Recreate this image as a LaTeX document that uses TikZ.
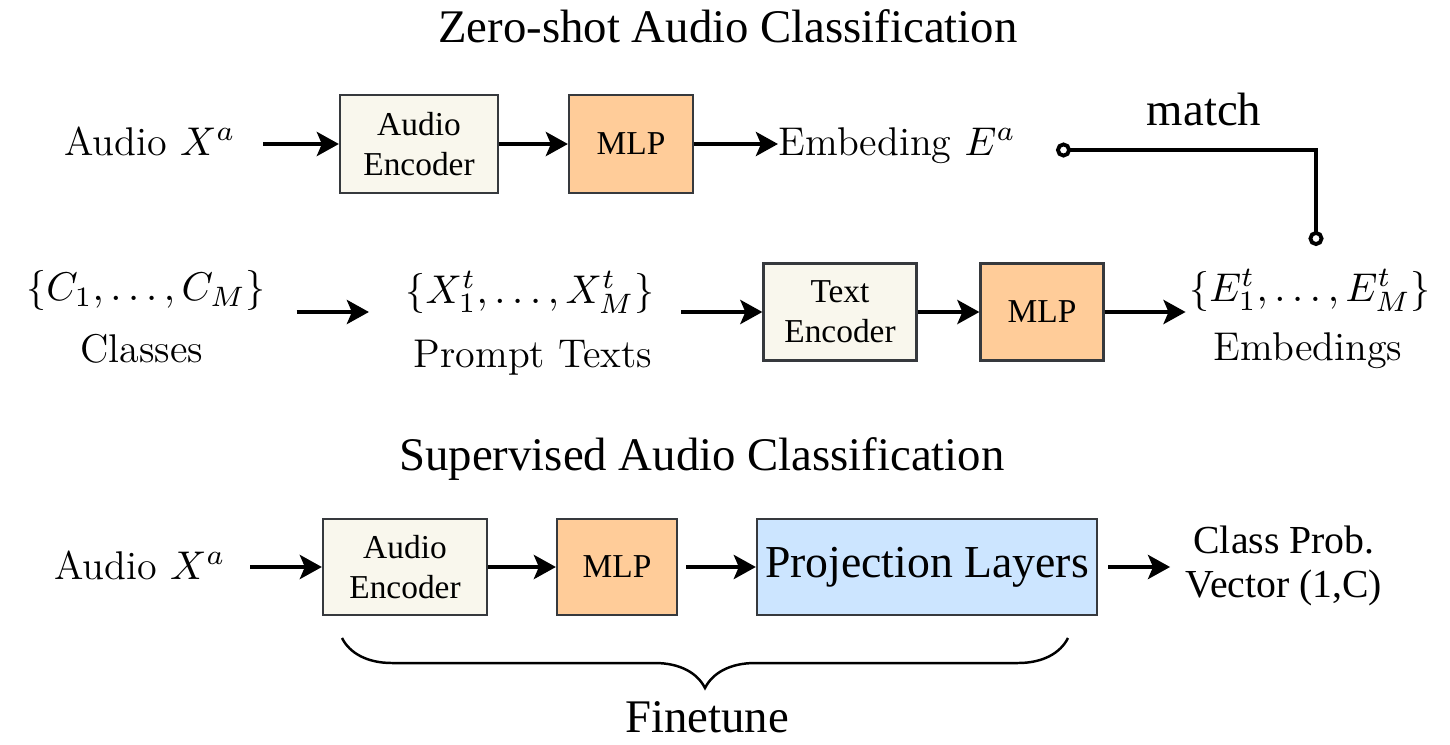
\RequirePackage{fix-cm}
\documentclass[tikz,border=0pt]{standalone}
\usepackage{amsmath}
\usepackage{fontspec}
\newfontfamily\tnr{Liberation Serif}
\usetikzlibrary{arrows.meta,decorations.pathreplacing,positioning}
\definecolor{encfill}{HTML}{F9F7ED}
\definecolor{mlpfill}{HTML}{FFCC99}
\definecolor{projfill}{HTML}{CCE5FF}
\definecolor{boxline}{HTML}{36393D}

\begin{document}
\begin{tikzpicture}[x=0.01cm,y=-0.01cm,
  box/.style={draw=boxline,line width=0.6pt,align=center,inner sep=0pt,font=\tnr\fontsize{9.5}{11.5}\selectfont},
  encbox/.style={box,fill=encfill},
  mlpbox/.style={box,fill=mlpfill},
  lbl/.style={font=\fontsize{11.4}{14}\selectfont,inner sep=0pt},
  ttl/.style={font=\tnr\fontsize{13.3}{16}\selectfont,inner sep=0pt},
  arr/.style={-{Stealth[length=0.22cm,width=0.24cm,inset=0.05cm]},line width=1.4pt}]
\useasboundingbox (0,0) rectangle (1450,745);

\node[ttl,anchor=base] (zs) at (728,42) {Zero-shot Audio Classification};
\node[lbl,anchor=base] (ain) at (150,155) {Audio $X^a$};
\node[encbox,minimum width=1.58cm,minimum height=0.98cm] (aenc) at (419,144) {Audio\\Encoder};
\node[mlpbox,minimum width=1.24cm,minimum height=0.98cm] (mlp) at (631,144) {MLP};
\node[lbl,anchor=base west] (ea) at (778,155) {Embeding $E^a$};
\node[ttl,anchor=base] (match) at (1204,125) {match};
\coordinate (m1) at (1056,150);
\coordinate (m2) at (1316,246);

\node[lbl,anchor=base] (cset) at (146,300) {$\{C_1,\ldots,C_M\}$};
\node[lbl,anchor=base] (cls) at (142,362) {Classes};
\node[lbl,anchor=base] (xset) at (530,303) {$\{X^t_1,\ldots,X^t_M\}$};
\node[lbl,anchor=base] (pt) at (533,367) {Prompt Texts};
\node[encbox,minimum width=1.53cm,minimum height=0.97cm] (tenc) at (840,312) {Text\\Encoder};
\node[mlpbox,minimum width=1.23cm,minimum height=0.97cm] (mlpt) at (1042,312) {MLP};
\node[lbl,anchor=base] (eset) at (1310,301) {$\{E^t_1,\ldots,E^t_M\}$};
\node[lbl,anchor=base] (embs) at (1308,360) {Embedings};

\draw[arr,shorten <=0.27cm] (ain.east |- aenc) -- (aenc);
\draw[arr] (aenc) -- (mlp);
\draw[arr] (mlp) -- (ea.west |- mlp);
\draw[{Circle[open,length=0.15cm]}-{Circle[open,length=0.15cm]},line width=1.1pt] (m1) -| (m2);
\draw[arr,shorten <=0.3cm,shorten >=0.36cm] (cset.east |- tenc) -- (xset.west |- tenc);
\draw[arr,shorten <=0.26cm] (xset.east |- tenc) -- (tenc);
\draw[arr] (tenc) -- (mlpt);
\draw[arr,shorten >=0.03cm] (mlpt) -- (eset.west |- mlpt);

\node[ttl,anchor=base] (sv) at (702,470) {Supervised Audio Classification};
\node[lbl,anchor=base] (ain2) at (140,579) {Audio $X^a$};
\node[encbox,minimum width=1.64cm,minimum height=0.96cm] (aenc2) at (405,567) {Audio\\Encoder};
\node[mlpbox,minimum width=1.2cm,minimum height=0.96cm] (mlp2) at (617,567) {MLP};
\node[box,fill=projfill,minimum width=3.4cm,minimum height=0.96cm,font=\tnr\fontsize{13}{15}\selectfont] (proj) at (927,567) {Projection Layers};
\node[font=\tnr\fontsize{11.3}{12.5}\selectfont,align=center,inner sep=0pt] (out) at (1284,566) {Class Prob.\\Vector (1,C)};
\coordinate (b1) at (342,638);
\coordinate (b2) at (1068,638);
\node[ttl,anchor=base] (ft) at (707,732) {Finetune};

\draw[arr,shorten <=0.24cm] (ain2.east |- aenc2) -- (aenc2);
\draw[arr] (aenc2) -- (mlp2);
\draw[arr,shorten <=0.08cm] (mlp2) -- (proj);
\draw[arr,shorten <=0.1cm,shorten >=0.15cm] (proj) -- (out.west |- proj);
\draw[decorate,decoration={brace,amplitude=0.5cm},line width=0.7pt] (b2) -- (b1);
\end{tikzpicture}
\end{document}
